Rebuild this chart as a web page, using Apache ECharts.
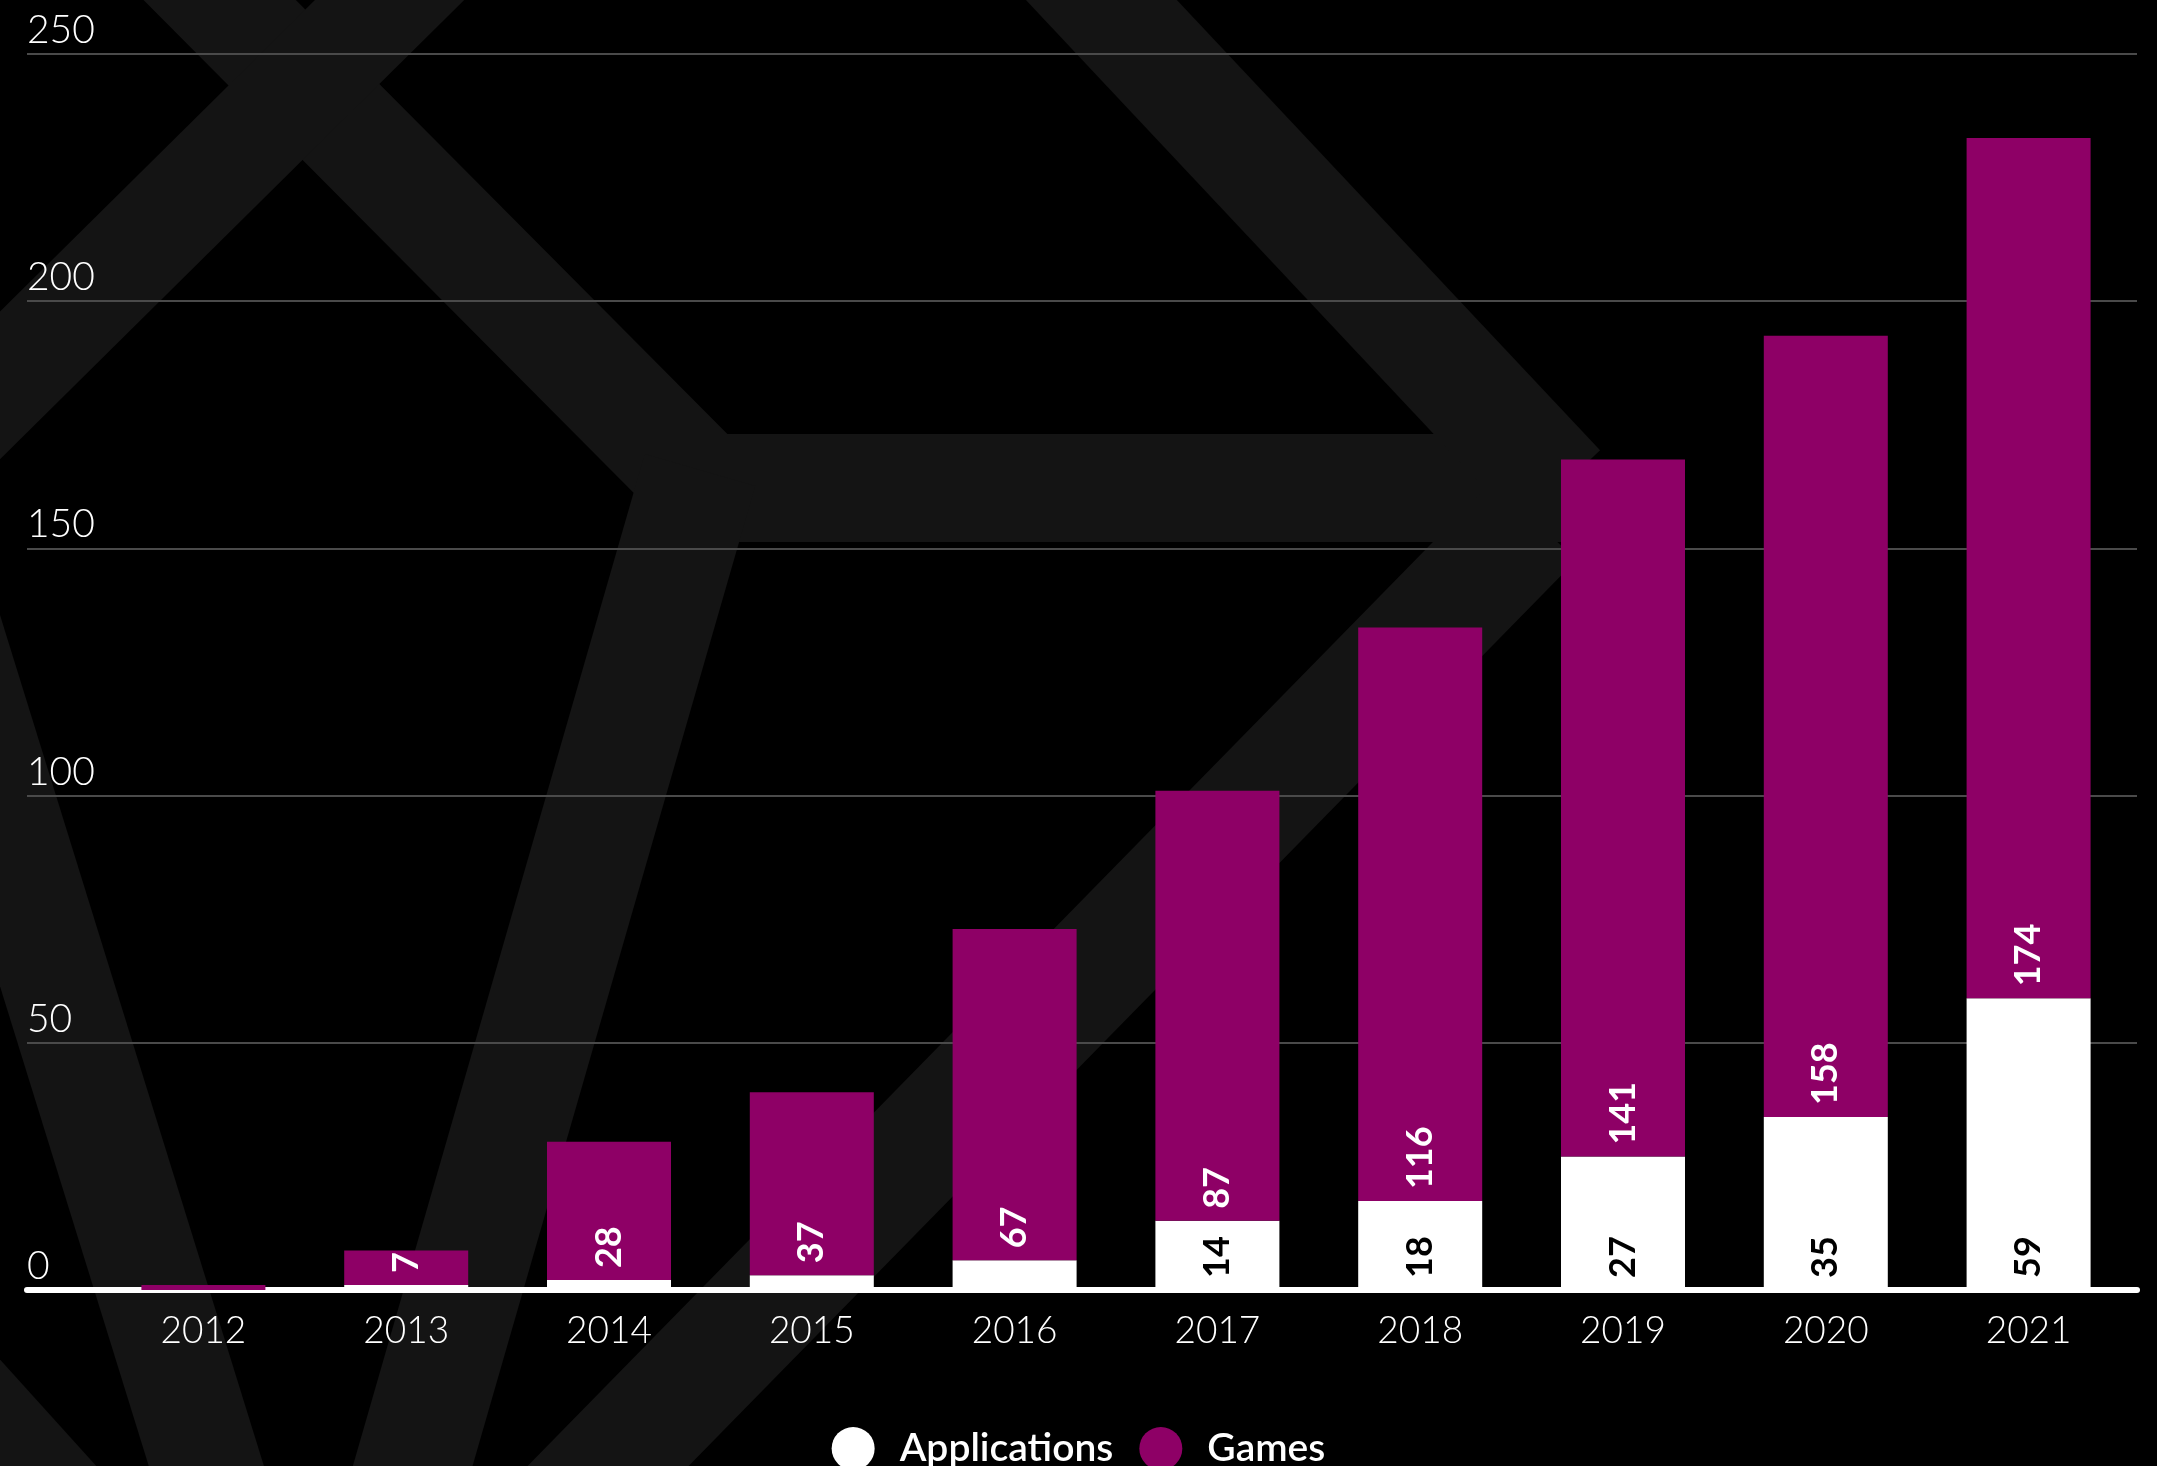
<!DOCTYPE html>
<html>
<head>
<meta charset="utf-8">
<script src="https://cdn.jsdelivr.net/npm/echarts@6/dist/echarts.min.js"></script>
<style>
  html, body { margin: 0; padding: 0; background: #000; }
  #chart { width: 2157px; height: 1466px; }
</style>
</head>
<body>
<div id="chart"></div>
<script>
// values
const years = ['2012', '2013', '2014', '2015', '2016', '2017', '2018', '2019', '2020', '2021'];
const applications = [0, 1, 2, 3, 6, 14, 18, 27, 35, 59];
const games = [1, 7, 28, 37, 67, 87, 116, 141, 158, 174];
const yMin = 0;
const yMax = 250;
const yStep = 50;

const purple = '#8e0066';
const band = '#141414';
const font = 'Lato, "Noto Sans", sans-serif';

let chart = echarts.init(document.getElementById('chart'), null, {
  width: 2157,
  height: 1466,
  renderer: 'canvas'
});

// background decoration (thick grey bands)
function bandLine(points, width) {
  return {
    type: 'polyline',
    silent: true,
    z: -10,
    shape: { points: points },
    style: { stroke: band, lineWidth: width || 110, fill: null, lineJoin: 'miter', lineCap: 'butt' }
  };
}

let barLabel = {
  position: 'insideBottom',
  distance: 12,
  rotate: 90,
  align: 'left',
  verticalAlign: 'middle',
  fontFamily: font,
  fontWeight: 'bold',
  fontSize: 36
};

let option = {
  backgroundColor: '#000',
  animation: false,
  graphic: {
    elements: [
      bandLine([[160, -60], [705, 488], [1575, 488]], 108),
      bandLine([[1045, -60], [1560, 488]], 110),
      bandLine([[430, -40], [-40, 425]], 105),
      bandLine([[1535, 520], [565, 1510]], 115),
      bandLine([[700, 470], [400, 1510]], 115),
      bandLine([[-70, 575], [220, 1510]], 110),
      bandLine([[-110, 1320], [80, 1530]], 110)
    ]
  },
  legend: {
    data: ['Applications', 'Games'],
    left: 'center',
    top: 1422,
    icon: 'circle',
    itemWidth: 43,
    itemHeight: 43,
    itemGap: 26,
    textStyle: {
      color: '#fff',
      fontFamily: font,
      fontWeight: 600,
      fontSize: 39,
      padding: [0, 0, 0, 20]
    }
  },
  grid: [
    { left: 27, right: 20, top: 54, bottom: 176 },
    { left: 102, right: 27, top: 54, bottom: 176 }
  ],
  xAxis: [
    {
      type: 'value',
      gridIndex: 0,
      min: 0,
      max: 1,
      offset: 3,
      axisLine: { show: true, lineStyle: { color: '#fff', width: 6 } },
      axisTick: { show: false },
      axisLabel: { show: false },
      splitLine: { show: false }
    },
    {
      type: 'category',
      gridIndex: 1,
      data: years,
      axisLine: { show: false },
      axisTick: { show: false },
      axisLabel: {
        color: '#fff',
        fontFamily: font,
        fontWeight: 300,
        fontSize: 37,
        margin: 23
      }
    }
  ],
  yAxis: [
    {
      type: 'value',
      gridIndex: 0,
      min: yMin,
      max: yMax,
      interval: yStep,
      axisLine: { show: false },
      axisTick: { show: false },
      splitLine: { lineStyle: { color: '#4a4a4a', width: 2 } },
      axisLabel: {
        inside: true,
        margin: 0,
        align: 'left',
        verticalAlign: 'bottom',
        padding: [0, 0, 4, 0],
        color: '#fff',
        fontFamily: font,
        fontWeight: 300,
        fontSize: 39
      }
    },
    {
      type: 'value',
      gridIndex: 1,
      min: yMin,
      max: yMax,
      interval: yStep,
      show: false
    }
  ],
  series: [
    {
      name: 'Applications',
      type: 'bar',
      stack: 'total',
      xAxisIndex: 1,
      yAxisIndex: 1,
      barWidth: 124,
      itemStyle: { color: '#fff' },
      label: Object.assign({ color: '#000' }, barLabel),
      data: applications.map(v => ({ value: v, label: { show: v >= 10 } }))
    },
    {
      name: 'Games',
      type: 'bar',
      stack: 'total',
      xAxisIndex: 1,
      yAxisIndex: 1,
      barWidth: 124,
      itemStyle: { color: purple },
      label: Object.assign({ color: '#fff' }, barLabel),
      data: games.map(v => ({ value: v, label: { show: v >= 5 } }))
    }
  ]
};

chart.setOption(option);
</script>
</body>
</html>
